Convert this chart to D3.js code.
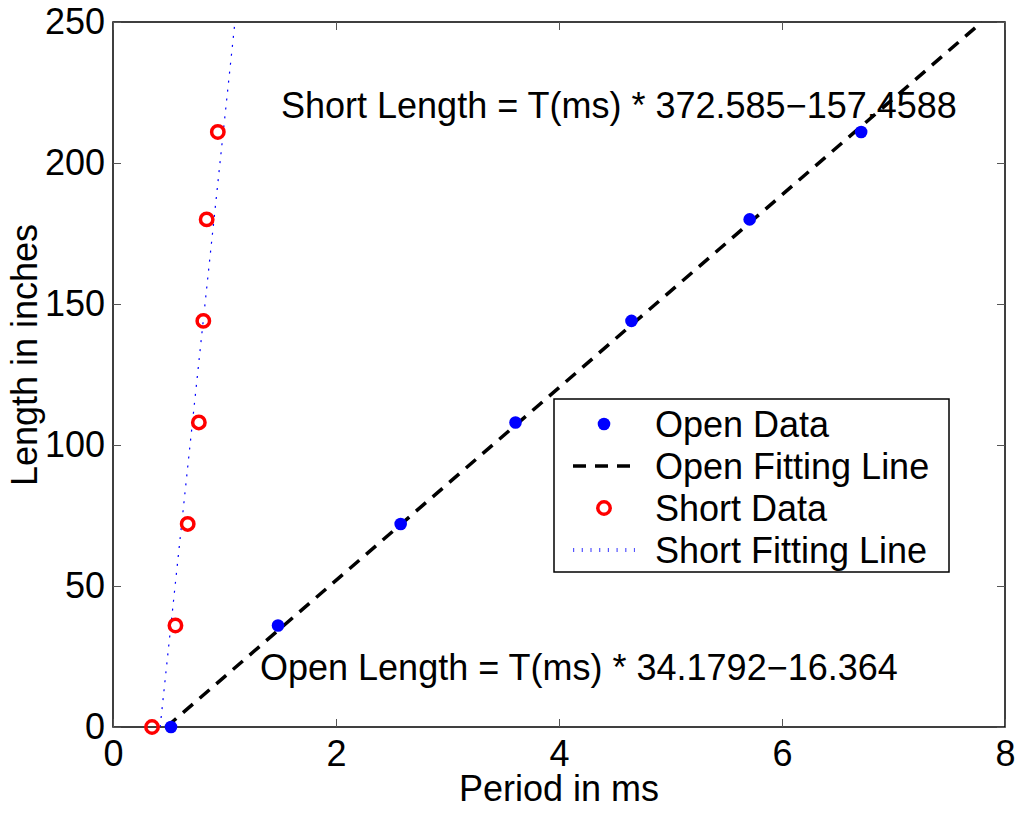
<html>
<head>
<meta charset="utf-8">
<script src="https://cdn.jsdelivr.net/npm/d3@7"></script>
<style>
  body { margin: 0; background: #fff; }
  text { font-family: "Liberation Sans", Arial, sans-serif; }
</style>
</head>
<body>
<script>

// data
var lengths    = [0, 36, 72, 108, 144, 180, 211];
var open_t     = [0.52, 1.48, 2.58, 3.61, 4.65, 5.71, 6.71];
var short_t    = [0.35, 0.56, 0.67, 0.77, 0.81, 0.84, 0.94];
var open_fit   = [34.1792, -16.364];     // slope, intercept
var short_fit  = [372.585, -157.4588];
var fit_range  = [0, 250];               // lengths the fit lines span
var x_ticks    = [0, 2, 4, 6, 8];
var y_ticks    = [0, 50, 100, 150, 200, 250];
var legend_labels = ["Open Data", "Open Fitting Line", "Short Data", "Short Fitting Line"];

// view
var W = 1021, H = 814;
var LEFT = 113, RIGHT = 1005, TOP = 22, BOTTOM = 727;
var FONT = 36;

var svg = d3.select("body").append("svg")
	.attr("width", W)
	.attr("height", H);

var x = d3.scaleLinear().domain([0, 8]).range([LEFT, RIGHT]);
var y = d3.scaleLinear().domain([0, 250]).range([BOTTOM, TOP]);

// box
svg.append("rect")
	.attr("x", LEFT).attr("y", TOP)
	.attr("width", RIGHT - LEFT).attr("height", BOTTOM - TOP)
	.attr("fill", "none").attr("stroke", "#000").attr("stroke-width", 1.5);

// axes, ticks pointing inward like matlab
function style_axis(g) {
	g.select(".domain").remove();
	g.selectAll(".tick line").attr("stroke", "#555").attr("stroke-width", 1);
	g.selectAll("text").attr("font-size", FONT).attr("fill", "#000")
		.style("font-family", "'Liberation Sans', Arial, sans-serif");
}

svg.append("g").attr("transform", "translate(0," + BOTTOM + ")")
	.call(d3.axisBottom(x).tickValues(x_ticks).tickSize(-8).tickPadding(13).tickFormat(d3.format("d")))
	.call(style_axis);
svg.append("g").attr("transform", "translate(0," + TOP + ")")
	.call(d3.axisTop(x).tickValues(x_ticks).tickSize(-8).tickFormat(""))
	.call(style_axis);
svg.append("g").attr("transform", "translate(" + LEFT + ",0)")
	.call(d3.axisLeft(y).tickValues(y_ticks).tickSize(-8).tickPadding(8).tickFormat(d3.format("d")))
	.call(style_axis);
svg.append("g").attr("transform", "translate(" + RIGHT + ",0)")
	.call(d3.axisRight(y).tickValues(y_ticks).tickSize(-8).tickFormat(""))
	.call(style_axis);

function fit_points(fit) {
	return fit_range.map(function(L) { return [(L - fit[1]) / fit[0], L]; });
}
var line = d3.line()
	.x(function(d) { return x(d[0]); })
	.y(function(d) { return y(d[1]); });

var plot = svg.append("g");

plot.append("path")
	.attr("d", line(fit_points(short_fit)))
	.attr("fill", "none").attr("stroke", "#0000ff")
	.attr("stroke-width", 1.2).attr("stroke-dasharray", "2,7");

plot.append("path")
	.attr("d", line(fit_points(open_fit)))
	.attr("fill", "none").attr("stroke", "#000")
	.attr("stroke-width", 3.5).attr("stroke-dasharray", "13,9");

plot.selectAll("circle.open")
	.data(lengths)
	.enter().append("circle")
	.attr("class", "open")
	.attr("cx", function(d, i) { return x(open_t[i]); })
	.attr("cy", function(d) { return y(d); })
	.attr("r", 6.3)
	.attr("fill", "#0000ff");

plot.selectAll("circle.short")
	.data(lengths)
	.enter().append("circle")
	.attr("class", "short")
	.attr("cx", function(d, i) { return x(short_t[i]); })
	.attr("cy", function(d) { return y(d); })
	.attr("r", 6.2)
	.attr("fill", "none")
	.attr("stroke", "#ff0000")
	.attr("stroke-width", 3.5);

// equations
svg.append("text")
	.attr("x", 281).attr("y", 118)
	.attr("font-size", FONT)
	.text("Short Length = T(ms) * " + short_fit[0] + "\u2212" + (-short_fit[1]));
svg.append("text")
	.attr("x", 260).attr("y", 680)
	.attr("font-size", FONT)
	.text("Open Length = T(ms) * " + open_fit[0] + "\u2212" + (-open_fit[1]));

// axis labels
svg.append("text")
	.attr("x", 559).attr("y", 801)
	.attr("text-anchor", "middle")
	.attr("font-size", FONT)
	.text("Period in ms");
svg.append("text")
	.attr("transform", "translate(37,355) rotate(-90)")
	.attr("text-anchor", "middle")
	.attr("font-size", FONT)
	.text("Length in inches");

// legend
var lg = svg.append("g").attr("transform", "translate(554,399)");
lg.append("rect")
	.attr("width", 395).attr("height", 173)
	.attr("fill", "#fff").attr("stroke", "#000").attr("stroke-width", 1.5);

var row_y = function(i) { return 25 + i * 42; };

lg.selectAll("text")
	.data(legend_labels)
	.enter().append("text")
	.attr("x", 101)
	.attr("y", function(d, i) { return row_y(i) + 13; })
	.attr("font-size", FONT)
	.text(function(d) { return d; });

lg.append("circle").attr("cx", 50).attr("cy", row_y(0)).attr("r", 6.3).attr("fill", "#0000ff");
lg.append("line").attr("x1", 19).attr("x2", 81).attr("y1", row_y(1)).attr("y2", row_y(1))
	.attr("stroke", "#000").attr("stroke-width", 3.5).attr("stroke-dasharray", "13,9");
lg.append("circle").attr("cx", 50).attr("cy", row_y(2)).attr("r", 6.2)
	.attr("fill", "none").attr("stroke", "#ff0000").attr("stroke-width", 3.5);
lg.append("line").attr("x1", 19).attr("x2", 81).attr("y1", row_y(3)).attr("y2", row_y(3))
	.attr("stroke", "#5555ff").attr("stroke-width", 4).attr("stroke-dasharray", "1.2,7.5");

</script>
</body>
</html>
